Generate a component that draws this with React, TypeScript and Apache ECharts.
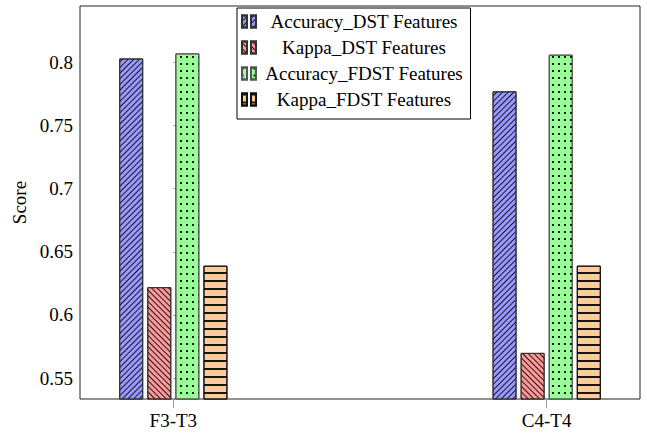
import React, { useEffect, useRef } from "react";
import * as echarts from "echarts";

const categories = ["F3-T3", "C4-T4"];
const seriesNames = [
  "Accuracy_DST Features",
  "Kappa_DST Features",
  "Accuracy_FDST Features",
  "Kappa_FDST Features",
];
const accuracyDST = [0.803, 0.777];
const kappaDST = [0.622, 0.570];
const accuracyFDST = [0.807, 0.806];
const kappaFDST = [0.639, 0.639];
const yTicks = [0.55, 0.6, 0.65, 0.7, 0.75, 0.8];

const FONT = "'Liberation Serif', serif";
const FS = 19;

export default function App() {
  const ref = useRef<HTMLDivElement>(null);
  useEffect(() => {
    if (!ref.current) return;
    const chart = echarts.init(ref.current, undefined, { renderer: "svg" });
    const allValues = [accuracyDST, kappaDST, accuracyFDST, kappaFDST];
    const fills = ["#9999ff", "#ff9999", "#99ff99", "#ffcc99"];
    const borders = ["#333333", "#333333", "#555555", "#111111"];
    const decals: any[] = [
      { symbol: "rect", symbolSize: 1, dashArrayX: [1, 0], dashArrayY: [1, 2.2], rotation: -Math.PI / 4, color: "rgba(0,0,0,0.85)" },
      { symbol: "rect", symbolSize: 1, dashArrayX: [1, 0], dashArrayY: [1, 2.2], rotation: Math.PI / 4, color: "rgba(0,0,0,0.85)" },
      { symbol: "rect", symbolSize: 1, dashArrayX: [1.6, 3.9], dashArrayY: [1.6, 4.1], rotation: 0, color: "rgba(0,0,0,0.9)" },
      { symbol: "rect", symbolSize: 1, dashArrayX: [1, 0], dashArrayY: [1.2, 5.3], rotation: 0, color: "rgba(0,0,0,0.9)" },
    ];
    const series = allValues.map((vals, i) => ({
      name: seriesNames[i],
      type: "bar",
      barWidth: 24,
      barGap: "17%",
      data: vals.map((v, j) => [j, v]),
      itemStyle: {
        color: fills[i],
        borderColor: borders[i],
        borderWidth: 1,
        decal: decals[i],
      },
    }));
    chart.setOption({
      animation: false,
      aria: { enabled: true, decal: { show: true } },
      grid: {
        left: 80,
        right: 7,
        top: 6,
        bottom: 38,
        show: true,
        borderColor: "#222",
        borderWidth: 1,
        backgroundColor: "transparent",
      },
      legend: {
        orient: "vertical",
        left: 237,
        top: 8,
        padding: [4, 4, 10, 4],
        itemGap: 7,
        itemWidth: 15,
        itemHeight: 12,
        icon: "path://M0,0H5V12H0Z M9,0H14V12H9Z",
        borderColor: "#000",
        borderWidth: 1,
        backgroundColor: "#fff",
        data: seriesNames,
        formatter: (name: string) => "{a|" + name + "}",
        textStyle: {
          fontFamily: FONT,
          fontSize: FS,
          color: "#000",
          rich: {
            a: { width: 205, align: "center", fontFamily: FONT, fontSize: FS, color: "#000", lineHeight: 20 },
          },
        },
      },
      xAxis: {
        type: "value",
        min: -0.25,
        max: 1.25,
        splitLine: { show: false },
        axisLine: { show: false },
        axisTick: {
          show: true,
          customValues: [0, 1],
          length: 9,
          inside: false,
          lineStyle: { color: "#999" },
        },
        axisLabel: {
          customValues: [0, 1],
          formatter: (v: number) => categories[Math.round(v)] ?? "",
          fontFamily: FONT,
          fontSize: FS,
          color: "#000",
          margin: 12,
        },
      },
      yAxis: {
        type: "value",
        min: 0.5335,
        max: 0.8445,
        name: "Score",
        nameLocation: "middle",
        nameRotate: 90,
        nameGap: 50,
        nameTextStyle: { fontFamily: FONT, fontSize: FS, color: "#000" },
        splitLine: { show: false },
        axisLine: { show: false },
        axisTick: {
          show: true,
          customValues: yTicks,
          inside: true,
          length: 5,
          lineStyle: { color: "#999" },
        },
        axisLabel: {
          customValues: yTicks,
          formatter: (v: number) => String(Number(v.toFixed(2))),
          fontFamily: FONT,
          fontSize: FS,
          color: "#000",
          margin: 7,
        },
      },
      series,
    });
    return () => chart.dispose();
  }, []);
  return <div ref={ref} style={{ width: 647, height: 437, position: "absolute", left: 0, top: 0 }} />;
}
